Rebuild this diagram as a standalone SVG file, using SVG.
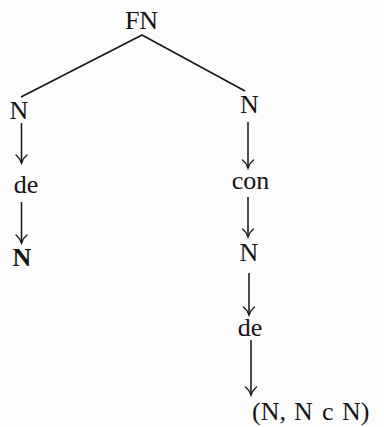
<svg xmlns="http://www.w3.org/2000/svg" width="384" height="427" viewBox="0 0 384 427">
<defs>
<style>
.t{font-family:"Liberation Serif","DejaVu Serif",serif;font-size:26px;fill:#141414;text-anchor:middle}
.l{stroke:#141414;stroke-width:1.5;fill:none}
.h{stroke:#141414;stroke-width:1.4;fill:none;stroke-linecap:round}
</style>
</defs>
<rect width="384" height="427" fill="#fcfcfc"/>
<g id="connectors">
<path class="l" d="M142,35 L21,97"/>
<path class="l" d="M142,35 L245,91"/>
<path class="l" d="M21.5,123 V163"/><path class="h" d="M16,155 Q20,158 21.5,163 Q23,158 27,155"/>
<path class="l" d="M21.5,202 V243"/><path class="h" d="M16,235 Q20,238 21.5,243 Q23,238 27,235"/>
<path class="l" d="M248,122 V168"/><path class="h" d="M242.5,160 Q246.5,163 248,168 Q249.5,163 253.5,160"/>
<path class="l" d="M248,197 V237"/><path class="h" d="M242.5,229 Q246.5,232 248,237 Q249.5,232 253.5,229"/>
<path class="l" d="M249,273 V315"/><path class="h" d="M243.5,307 Q247.5,310 249,315 Q250.5,310 254.5,307"/>
<path class="l" d="M251,340 V395"/><path class="h" d="M245.5,387 Q249.5,390 251,395 Q252.5,390 256.5,387"/>
</g>
<g id="n-FN"><text class="t" x="141.5" y="29">FN</text></g>
<g id="n-N-left"><text class="t" x="19" y="119">N</text></g>
<g id="n-de-left"><text class="t" x="26" y="193">de</text></g>
<g id="n-N-left-bottom"><text class="t" x="22" y="266" font-weight="bold">N</text></g>
<g id="n-N-right"><text class="t" x="249.5" y="113">N</text></g>
<g id="n-con"><text class="t" x="250.5" y="189">con</text></g>
<g id="n-N-right-2"><text class="t" x="249" y="261">N</text></g>
<g id="n-de-right"><text class="t" x="250" y="336">de</text></g>
<g id="n-final"><text class="t" style="text-anchor:start" y="420"><tspan x="252">(N,</tspan><tspan x="294">N</tspan><tspan x="322">c</tspan><tspan x="342">N)</tspan></text></g>
</svg>
